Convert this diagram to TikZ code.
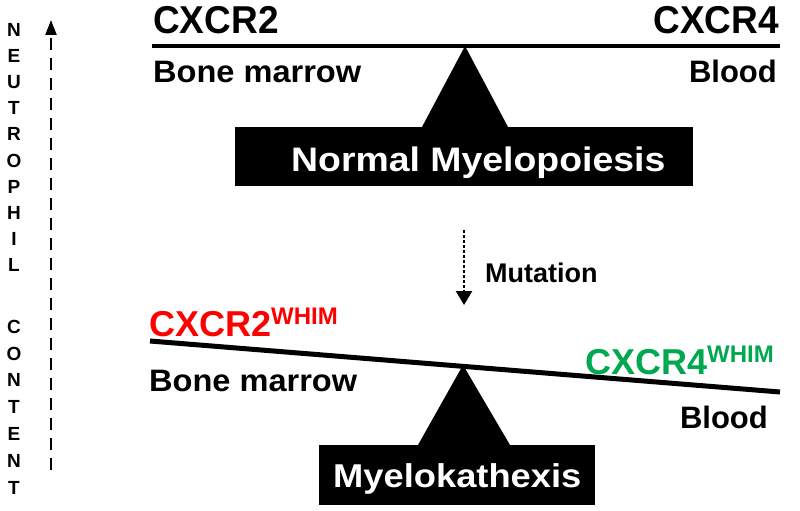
\documentclass[tikz,border=0pt]{standalone}
\usepackage{fontspec}
\setmainfont{Liberation Sans}
\usetikzlibrary{arrows.meta}
\newcommand{\fs}[1]{\fontsize{#1}{#1}\selectfont}
\definecolor{whimred}{RGB}{255,0,0}
\definecolor{whimgreen}{RGB}{0,168,80}
\begin{document}
\begin{tikzpicture}[x=1pt,y=-1pt,
  lbl/.style={inner sep=0pt, font=\bfseries},
  beam/.style={line width=4.5pt},
  fulcrum/.style={fill=black, draw=none},
  plate/.style={fill=black, draw=none},
  vletter/.style={inner sep=0pt, font=\bfseries\fs{19}},
]
\useasboundingbox (0,0) rectangle (800,511);

% vertical label
\foreach \ch/\yy [count=\i] in {N/30,E/56,U/82,T/108,R/134,O/160.5,P/187,H/213,I/239,L/265,C/327,O/354,N/380,T/407,E/434,N/461,T/488}
  \node[vletter] (v\i) at (14,\yy) {\ch};

% vertical dashed arrow
\coordinate (vbot) at (51,470);
\coordinate (vtop) at (51,20);
\draw[line width=2.2pt, dash pattern=on 12pt off 8pt, -{Triangle[width=11pt,length=15pt]}] (vbot) -- (vtop);

% ---------- top balance ----------
\coordinate (tbL) at (152,46);
\coordinate (tbR) at (780,46);
\draw[beam] (tbL) -- (tbR);
\node[lbl, anchor=base west, font=\bfseries\fs{37}, yscale=1.05] (cxcr2) at (153,34) {CXCR2};
\node[lbl, anchor=base east, font=\bfseries\fs{37}, yscale=1.05] (cxcr4) at (779,34) {CXCR4};
\node[lbl, anchor=base west, font=\bfseries\fs{31}, xscale=1.05] (bm1) at (153,82) {Bone marrow};
\node[lbl, anchor=base east, font=\bfseries\fs{31}] (bl1) at (777,82) {Blood};
\fill[fulcrum] (465,46) -- (422,127) -- (508,127) -- cycle;
\node[plate, minimum width=458pt, minimum height=59pt, anchor=north west, inner sep=0pt] (normal) at (235,127) {};
\node[lbl, anchor=base west, text=white, font=\bfseries\fs{34}, xscale=1.1] (normaltxt) at (291,171) {Normal Myelopoiesis};

% mutation arrow
\coordinate (mtop) at (464,230);
\coordinate (mbot) at (464,305);
\draw[line width=2.5pt, dash pattern=on 3pt off 2pt, -{Triangle[width=16pt,length=14pt]}] (mtop) -- (mbot);
\node[lbl, anchor=base west, font=\bfseries\fs{27}] (mut) at (485,282) {Mutation};

% ---------- bottom balance ----------
\coordinate (bbL) at (150,341);
\coordinate (bbR) at (780,392);
\draw[line width=5pt] (bbL) -- (bbR);
\node[lbl, anchor=base west, text=whimred, font=\bfseries\fs{36}] (cxcr2w) at (149,336)
  {CXCR2\raisebox{12pt}{\fs{24}WHIM}};
\node[lbl, anchor=base west, text=whimgreen, font=\bfseries\fs{36}] (cxcr4w) at (585,374)
  {CXCR4\raisebox{12pt}{\fs{24}WHIM}};
\node[lbl, anchor=base west, font=\bfseries\fs{31}, xscale=1.05] (bm2) at (149,391) {Bone marrow};
\node[lbl, anchor=base east, font=\bfseries\fs{31}] (bl2) at (768,428) {Blood};
\fill[fulcrum] (463,365) -- (418,445) -- (510,445) -- cycle;
\node[plate, minimum width=276pt, minimum height=60pt, anchor=north west, inner sep=0pt] (myelo) at (319,445) {};
\node[lbl, anchor=base west, text=white, font=\bfseries\fs{33}, xscale=1.1] (myelotxt) at (333,487) {Myelokathexis};
\end{tikzpicture}
\end{document}
